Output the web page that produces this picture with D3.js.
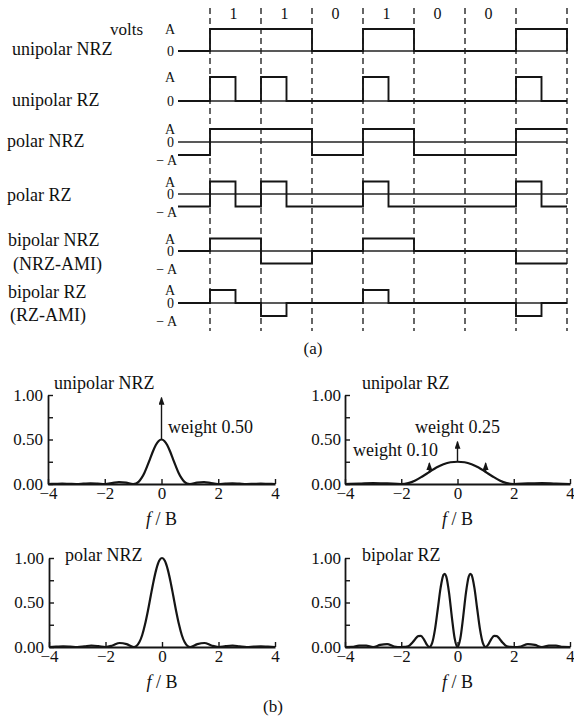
<!DOCTYPE html>
<html>
<head>
<meta charset="utf-8">
<script src="https://cdn.jsdelivr.net/npm/d3@7"></script>
<style>
  body { margin: 0; background: #fff; }
  svg { font-family: "Liberation Serif", "Times New Roman", serif; fill: #111; }
</style>
</head>
<body>
<svg id="fig" width="574" height="717" font-family="Liberation Serif, serif"></svg>
<script>
// ---------- data : part (a) ----------
var bits = [1, 1, 0, 1, 0, 0, 1];
var bitLabels = ["1", "1", "0", "1", "0", "0", ""];
var codeNames = [["unipolar NRZ"], ["unipolar RZ"], ["polar NRZ"], ["polar RZ"],
                 ["bipolar NRZ", "(NRZ-AMI)"], ["bipolar RZ", "(RZ-AMI)"]];
// level before the first bit, one level per half bit, level after the last bit
var unipolarNRZ = [0, 1,1, 1,1, 0,0, 1,1, 0,0, 0,0, 1,1, 0];
var unipolarRZ  = [0, 1,0, 1,0, 0,0, 1,0, 0,0, 0,0, 1,0, 0];
var polarNRZ    = [-1, 1,1, 1,1, -1,-1, 1,1, -1,-1, -1,-1, 1,1, 1];
var polarRZ     = [-1, 1,-1, 1,-1, -1,-1, 1,-1, -1,-1, -1,-1, 1,-1, -1];
var bipolarNRZ  = [0, 1,1, -1,-1, 0,0, 1,1, 0,0, 0,0, -1,-1, -1];
var bipolarRZ   = [0, 1,0, -1,0, 0,0, 1,0, 0,0, 0,0, -1,0, 0];
var codeLevels = [unipolarNRZ, unipolarRZ, polarNRZ, polarRZ, bipolarNRZ, bipolarRZ];

// ---------- data : part (b) ----------
var fNRZ = [-4,-3.75,-3.5,-3.25,-3,-2.75,-2.5,-2.25,-2,-1.75,-1.5,-1.25,-1,
            -0.9,-0.8,-0.7,-0.6,-0.5,-0.4,-0.3,-0.2,-0.1,0,0.1,0.2,0.3,0.4,0.5,0.6,0.7,0.8,0.9,
            1,1.25,1.5,1.75,2,2.25,2.5,2.75,3,3.25,3.5,3.75,4];
var psdPolarNRZ = [0,0.004,0.008,0.005,0,0.007,0.016,0.010,0,0.017,0.045,0.032,0,
                   0.012,0.055,0.135,0.255,0.405,0.573,0.737,0.875,0.968,1,0.968,0.875,0.737,0.573,0.405,0.255,0.135,0.055,0.012,
                   0,0.032,0.045,0.017,0,0.010,0.016,0.007,0,0.005,0.008,0.004,0];
var psdUnipolarNRZ = [0,0.002,0.004,0.002,0,0.004,0.008,0.005,0,0.009,0.022,0.016,0,
                      0.006,0.027,0.068,0.127,0.203,0.286,0.368,0.438,0.484,0.5,0.484,0.438,0.368,0.286,0.203,0.127,0.068,0.027,0.006,
                      0,0.016,0.022,0.009,0,0.005,0.008,0.004,0,0.002,0.004,0.002,0];
var fRZ = [-4,-3.5,-3,-2.5,-2,-1.75,-1.5,-1.25,-1,-0.75,-0.5,-0.25,0,0.25,0.5,0.75,1,1.25,1.5,1.75,2,2.5,3,3.5,4];
var psdUnipolarRZ = [0,0.004,0.01,0.006,0,0.01,0.04,0.085,0.135,0.185,0.222,0.244,0.25,
                     0.244,0.222,0.185,0.135,0.085,0.04,0.01,0,0.006,0.01,0.004,0];
var fBRZ = [-4,-3.75,-3.5,-3.25,-3,-2.75,-2.5,-2.25,-2,-1.9,-1.8,-1.7,-1.6,-1.5,-1.4,-1.3,-1.2,-1.1,-1,
            -0.9,-0.8,-0.7,-0.6,-0.5,-0.45,-0.4,-0.3,-0.2,-0.1,0,0.1,0.2,0.3,0.4,0.45,0.5,0.6,0.7,0.8,0.9,
            1,1.1,1.2,1.3,1.4,1.5,1.6,1.7,1.8,1.9,2,2.25,2.5,2.75,3,3.25,3.5,3.75,4];
var psdBipolarRZ = [0,0.002,0.016,0.016,0,0.023,0.032,0.006,0,0.0003,0.004,0.019,0.05,0.09,0.122,0.125,0.088,0.031,0,
                    0.047,0.198,0.43,0.667,0.811,0.823,0.792,0.608,0.334,0.095,0,0.095,0.334,0.608,0.792,0.823,0.811,0.667,0.43,0.198,0.047,
                    0,0.031,0.088,0.125,0.122,0.09,0.05,0.019,0.004,0.0003,0,0.006,0.032,0.023,0,0.016,0.016,0.002,0];
var xTicks = [-4, -2, 0, 2, 4];
var yTicks = [0, 0.25, 0.5, 0.75, 1];
var yTickLabels = {0: "0.00", 0.5: "0.50", 1: "1.00"};
var psdTitles = ["unipolar NRZ", "unipolar RZ", "polar NRZ", "bipolar RZ"];
var deltaUnipolarNRZ = [{f: 0, from: 0.5, to: 0.97}];
var deltaUnipolarRZ = [{f: -1, from: 0.135, to: 0.235}, {f: 0, from: 0.25, to: 0.475}, {f: 1, from: 0.135, to: 0.235}];

// ---------- drawing ----------
var svg = d3.select("#fig");
var ink = "#151515";

var defs = svg.append("defs");
defs.append("marker")
    .attr("id", "head")
    .attr("markerUnits", "userSpaceOnUse")
    .attr("markerWidth", 8).attr("markerHeight", 10)
    .attr("refX", 7).attr("refY", 3)
    .attr("orient", "auto")
    .append("path")
    .attr("d", "M0,0 L8,3 L0,6 Z")
    .attr("fill", ink);

/* part (a): line codes */
var xBit = d3.scaleLinear().domain([0, 7]).range([210, 567]);
var xLead = 178;
var rowZero = [51, 101, 142, 194, 251, 303];
var rowAmp = [22, 24, 13, 12.5, 12.5, 13];
var nameBase = [[55], [106], [147], [201], [246, 270], [298, 321]];
var nameX = [[12], [12], [7], [7], [8, 13], [8, 10]];

// dashed bit boundaries
svg.append("g").selectAll("line")
    .data(d3.range(bits.length + 1))
    .enter().append("line")
    .attr("x1", function(d) { return xBit(d); })
    .attr("x2", function(d) { return xBit(d); })
    .attr("y1", 8).attr("y2", 331)
    .attr("stroke", ink).attr("stroke-width", 1.3)
    .attr("stroke-dasharray", "6,4");

svg.append("g").selectAll("text")
    .data(bitLabels)
    .enter().append("text")
    .attr("x", function(d, i) { return xBit(i + 0.5) - 2; })
    .attr("y", 19)
    .attr("text-anchor", "middle")
    .attr("font-size", 16)
    .text(function(d) { return d; });

svg.append("text").attr("x", 143).attr("y", 35).attr("text-anchor", "end")
    .attr("font-size", 17).text("volts");

codeLevels.forEach(function(levels, r) {
    var y = d3.scaleLinear().domain([-1, 1]).range([rowZero[r] + rowAmp[r], rowZero[r] - rowAmp[r]]);
    var g = svg.append("g");
    var bipolarRow = levels.indexOf(-1) >= 0;

    // labels
    codeNames[r].forEach(function(t, k) {
        g.append("text").attr("x", nameX[r][k]).attr("y", nameBase[r][k])
            .attr("font-size", 18).text(t);
    });
    g.append("text").attr("x", 170).attr("y", y(1) + 5).attr("text-anchor", "middle")
        .attr("font-size", 14).text("A");
    g.append("text").attr("x", 170.5).attr("y", y(0) + 5).attr("text-anchor", "middle")
        .attr("font-size", 14).text("0");
    if (bipolarRow) {
        g.append("text").attr("x", 177).attr("y", y(-1) + 10).attr("text-anchor", "end")
            .attr("font-size", 14).text("\u2212 A");
    }

    // zero reference
    g.append("line").attr("x1", xLead).attr("x2", xBit(7))
        .attr("y1", y(0)).attr("y2", y(0))
        .attr("stroke", "#222").attr("stroke-width", 1.3);

    // waveform
    var pts = [[xLead, levels[0]]];
    for (var i = 0; i < 14; i++) {
        pts.push([xBit(i / 2), levels[i]]);
        pts.push([xBit(i / 2), levels[i + 1]]);
    }
    pts.push([xBit(7), levels[14]]);
    pts.push([xBit(7), levels[15]]);
    g.append("path")
        .attr("d", d3.line().x(function(d) { return d[0]; }).y(function(d) { return y(d[1]); })(pts))
        .attr("fill", "none").attr("stroke", ink).attr("stroke-width", 1.9);
});

svg.append("text").attr("x", 313).attr("y", 354).attr("text-anchor", "middle")
    .attr("font-size", 17).text("(a)");

/* part (b): power spectral densities */
var panelX = [[48, 275], [345, 570], [49, 275], [345, 570]];
var panelY = [[484, 395], [484, 395], [647, 558], [647, 558]];
var titlePos = [[54, 389], [362, 389], [65, 561], [362, 561]];
var panelF = [fNRZ, fRZ, fNRZ, fBRZ];
var panelP = [psdUnipolarNRZ, psdUnipolarRZ, psdPolarNRZ, psdBipolarRZ];
var panelDeltas = [deltaUnipolarNRZ, deltaUnipolarRZ, [], []];

panelP.forEach(function(vals, k) {
    var x = d3.scaleLinear().domain([-4, 4]).range(panelX[k]);
    var y = d3.scaleLinear().domain([0, 1]).range(panelY[k]);
    var g = svg.append("g");

    var xAxis = d3.axisBottom(x).tickValues(xTicks).tickSize(-5).tickSizeOuter(0).tickPadding(3)
        .tickFormat(d3.format("d"));
    var yAxis = d3.axisLeft(y).tickValues(yTicks).tickSize(-5).tickSizeOuter(0).tickPadding(k % 2 ? 4 : 5)
        .tickFormat(function(d) { return yTickLabels[d] || ""; });

    var ya = g.append("g").attr("transform", "translate(" + panelX[k][0] + ",0)").call(yAxis);
    var xa = g.append("g").attr("transform", "translate(0," + panelY[k][0] + ")").call(xAxis);
    [xa, ya].forEach(function(a) {
        a.attr("font-family", "Liberation Serif, serif");
        a.select(".domain").attr("stroke", ink).attr("stroke-width", 1.8);
        a.selectAll(".tick line").attr("stroke", ink).attr("stroke-width", 1.4);
        a.selectAll(".tick text").attr("fill", "#111").attr("font-size", 17);
    });

    var pts = panelF[k].map(function(f, i) { return [f, vals[i]]; });
    g.append("path")
        .attr("d", d3.line().curve(d3.curveMonotoneX)
            .x(function(d) { return x(d[0]); }).y(function(d) { return y(d[1]); })(pts))
        .attr("fill", "none").attr("stroke", ink).attr("stroke-width", 2.2);

    panelDeltas[k].forEach(function(d) {
        g.append("line")
            .attr("x1", x(d.f)).attr("x2", x(d.f))
            .attr("y1", y(d.from)).attr("y2", y(d.to))
            .attr("stroke", ink).attr("stroke-width", 1.4)
            .attr("marker-end", "url(#head)");
    });

    g.append("text").attr("x", titlePos[k][0]).attr("y", titlePos[k][1])
        .attr("font-size", 18).text(psdTitles[k]);

    var lab = g.append("text").attr("x", x(0)).attr("y", panelY[k][0] + 41)
        .attr("text-anchor", "middle").attr("font-size", 18);
    lab.append("tspan").attr("font-style", "italic").text("f");
    lab.append("tspan").text(" / B");
});

svg.append("text").attr("x", 168).attr("y", 433).attr("font-size", 18).text("weight 0.50");
svg.append("text").attr("x", 415).attr("y", 433).attr("font-size", 18).text("weight 0.25");
svg.append("text").attr("x", 353).attr("y", 456).attr("font-size", 18).text("weight 0.10");

svg.append("text").attr("x", 273).attr("y", 712).attr("text-anchor", "middle")
    .attr("font-size", 17).text("(b)");
</script>
</body>
</html>
